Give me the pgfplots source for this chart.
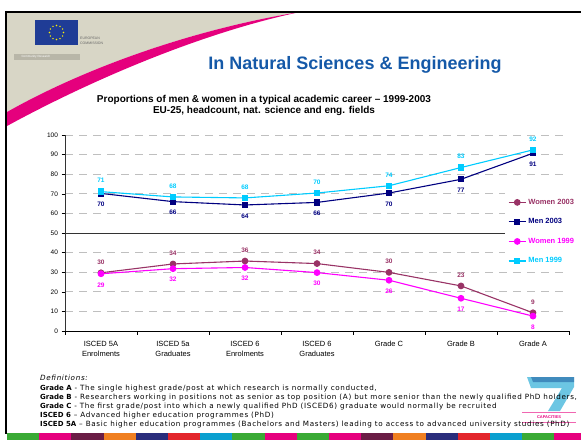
\documentclass[border=0pt]{standalone}
\usepackage{pgfplots}
\pgfplotsset{compat=1.18}
\usepackage{fontspec}
\setmainfont{Liberation Sans}
\newfontfamily\defs[LetterSpace=9]{DejaVu Sans}
\newfontfamily\defsb{DejaVu Sans}
\definecolor{w03}{HTML}{993366}
\definecolor{m03}{HTML}{000080}
\definecolor{w99}{HTML}{FF00FF}
\definecolor{m99}{HTML}{00CCFF}
\definecolor{beige}{HTML}{D8D6C6}
\definecolor{swoosh}{HTML}{E5007D}
\definecolor{titleblue}{HTML}{1559A8}
\definecolor{eublue}{HTML}{1F3C96}
\definecolor{sg}{HTML}{3AAA35}
\definecolor{sp}{HTML}{E6007E}
\definecolor{sm}{HTML}{6A1D45}
\definecolor{so}{HTML}{F07F20}
\definecolor{sn}{HTML}{2A2D7C}
\definecolor{sr}{HTML}{E3262C}
\definecolor{sc}{HTML}{0AA0D0}

\pgfplotstableread{
x w03 m03 w99 m99
0 29.7 70.2 29.2 71.1
1 34.2 66.0 31.8 68.4
2 35.7 64.3 32.4 67.9
3 34.4 65.6 29.8 70.4
4 29.9 70.4 25.9 74.1
5 23.0 77.4 16.7 83.4
6 9.3  90.7 7.6  92.4
}\datatable

\newcommand{\lbl}[1]{{\defsb\bfseries\fontsize{7}{8}\selectfont #1}}

\begin{document}
\begin{tikzpicture}
\useasboundingbox (0,0) rectangle (581pt,440pt);
\begin{scope}[x=1pt,y=-1pt,yshift=440pt]
  % header background
  \fill[beige] (7,12) -- (300,12) .. controls (200,28) and (90,65) .. (7,112) -- cycle;
  \fill[swoosh] (300,12) .. controls (200,28) and (90,65) .. (7,112) -- (7,126) .. controls (95,78) and (205,32) .. (300,12) -- cycle;
  % EU logo
  \fill[eublue] (35,20) rectangle (78,45);
  \foreach \a in {0,30,...,330} \fill[yellow] (56.5,32.5) ++(\a:7) circle (0.8);
  \node[anchor=west, font=\fontsize{3.5}{4}\selectfont, text=black!60, inner sep=0] at (80,38) {EUROPEAN};
  \node[anchor=west, font=\fontsize{3.5}{4}\selectfont, text=black!60, inner sep=0] at (80,43) {COMMISSION};
  \fill[beige!85!black] (14,54) rectangle (80,60);
  \node[font=\fontsize{3}{3}\selectfont, text=white, inner sep=0] at (36,57) {Community Research};
  % frame
  \draw[line width=2.2pt] (5,12) -- (581,12);
  \draw[line width=2.2pt] (6,11) -- (6,434);
  % titles
  \node[font=\bfseries\fontsize{18}{20}\selectfont, text=titleblue] at (355,65) {In Natural Sciences \& Engineering};
  \node[font=\bfseries\fontsize{10}{11}\selectfont, align=center] at (264,105) {Proportions of men \& women in a typical academic career – 1999-2003\\EU-25, headcount, nat. science and eng. fields};
  % 7 capacities logo (drawn shape)
  \fill[sc!75!white, opacity=0.8] (527,377) -- (574,377) -- (574,387) -- (560,411) -- (548,411) -- (562,388) -- (531,388) -- cycle;
  \fill[sn!60!sc, opacity=0.55] (531,377) -- (574,377) -- (574,382) -- (533,382) -- cycle;
  \draw[sp!60, line width=0.8pt] (522,412.5) -- (576,412.5);
  \draw[sp!60, line width=0.8pt] (522,422) -- (576,422);
  \node[font=\bfseries\fontsize{4}{4}\selectfont, text=sp, inner sep=0] at (549,417.5) {CAPACITIES};
  % definitions
  \begin{scope}[every node/.style={anchor=base west, inner sep=0, font=\defs\fontsize{7.2}{8}\selectfont}]
    \node at (40,380) {\itshape Definitions:};
    \node at (40,390.5) {\lbl{Grade A} - The single highest grade/post at which research is normally conducted,};
    \node at (40,399.5) {\lbl{Grade B} - Researchers working in positions not as senior as top position (A) but more senior than the newly qualified PhD holders,};
    \node at (40,408.5) {\lbl{Grade C} - The first grade/post into which a newly qualified PhD (ISCED6) graduate would normally be recruited};
    \node at (40,417.5) {\lbl{ISCED 6} – Advanced higher education programmes (PhD)};
    \node at (40,426.8) {\lbl{ISCED 5A} – Basic higher education programmes (Bachelors and Masters) leading to access to advanced university studies (PhD)};
  \end{scope}
  % bottom stripes
  \foreach \c [count=\i from 0] in {sg,sp,sm,so,sn,sr,sc,sg,sp,sg,sp,sm,so,sn,sr,sc,sg,sp}
    \fill[\c] ({7+\i*32.2},433) rectangle ({7+(\i+1)*32.2},440);
\end{scope}

\begin{axis}[
  at={(65pt,109pt)}, anchor=south west,
  scale only axis, width=504pt, height=196pt,
  xmin=-0.5, xmax=6.5, ymin=0, ymax=100,
  axis x line*=bottom, axis y line*=left,
  x axis line style={-, line width=0.8pt},
  y axis line style={-, line width=0.6pt, black!80},
  xtick={-0.5,0.5,...,6.5},
  x tick label as interval,
  xticklabels={{ISCED 5A\\Enrolments},{ISCED 5a\\Graduates},{ISCED 6\\Enrolments},{ISCED 6\\Graduates},{Grade C},{Grade B},{Grade A}},
  xticklabel style={font=\fontsize{7.5}{10}\selectfont, align=center, anchor=north, yshift=-3pt},
  ytick={0,10,...,100},
  yticklabel style={font=\fontsize{6.5}{7}\selectfont},
  /pgf/number format/assume math mode=true,
  tick align=outside, major tick length=3.5pt,
  tick style={black, line width=0.6pt},
  ymajorgrids,
  major grid style={dash pattern=on 8pt off 6pt, draw=black!25, line width=0.8pt},
  legend style={at={(rel axis cs:0.873,0.705)}, anchor=north west, draw=none, fill=white,
    font=\bfseries\fontsize{7.5}{8}\selectfont, row sep=8.8pt, inner xsep=3pt, inner ysep=4pt},
  legend cell align=left,
  every axis plot/.append style={line width=1.1pt},
  lab/.style n args={2}{nodes near coords={\pgfmathprintnumber[fixed,precision=0]{\pgfplotspointmeta}},
    every node near coord/.append style={anchor=center, yshift=#1, text=#2, font=\bfseries\fontsize{6.5}{7}\selectfont}},
]
\draw[black!80, line width=1pt] (axis cs:-0.5,50) -- (axis cs:6.5,50);
\addplot[color=w03, mark=*, mark size=2.8pt, lab={11pt}{w03}] table[x=x,y=w03] {\datatable};
\addlegendentry{\textcolor{w03}{Women 2003}}
\addplot[color=m03, mark=square*, mark size=2.6pt, lab={-11pt}{m03}] table[x=x,y=m03] {\datatable};
\addlegendentry{\textcolor{m03}{Men 2003}}
\addplot[color=w99, mark=*, mark size=2.8pt, lab={-11pt}{w99}] table[x=x,y=w99] {\datatable};
\addlegendentry{\textcolor{w99}{Women 1999}}
\addplot[color=m99, mark=square*, mark size=2.6pt, lab={11pt}{m99}] table[x=x,y=m99] {\datatable};
\addlegendentry{\textcolor{m99}{Men 1999}}
\end{axis}
\end{tikzpicture}
\end{document}
